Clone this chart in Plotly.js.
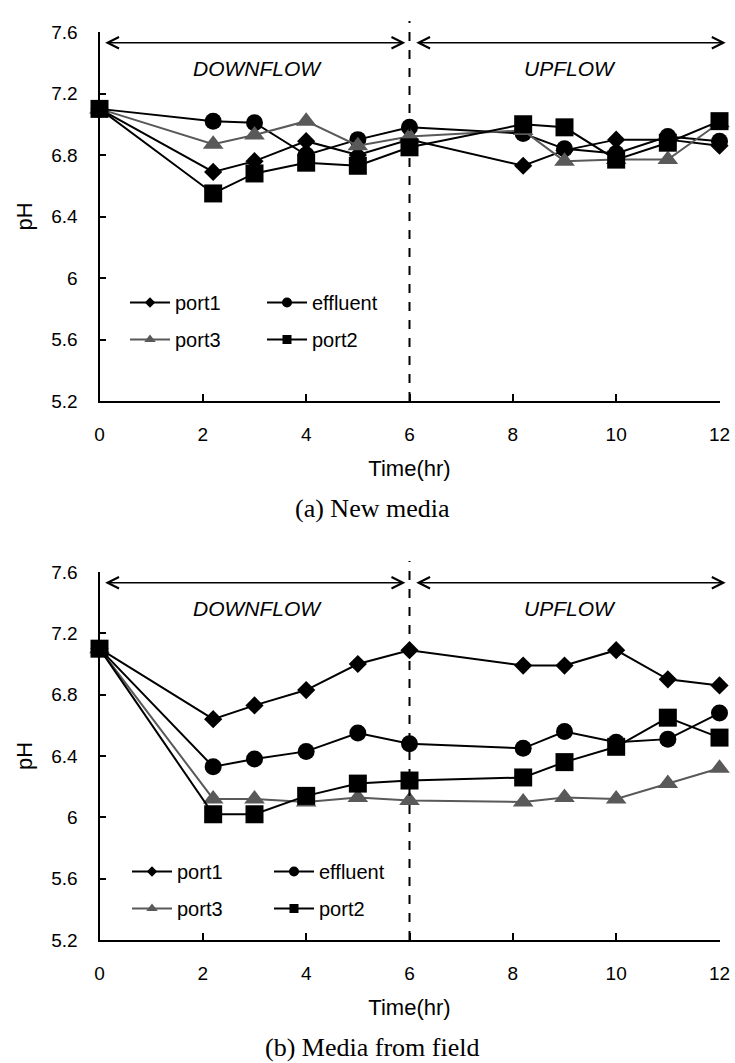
<!DOCTYPE html>
<html>
<head>
<meta charset="utf-8">
<script src="https://cdn.plot.ly/plotly-3.0.1.min.js"></script>
<style>html,body{margin:0;padding:0;background:#fff;}#chart{width:735px;height:1063px;}</style>
</head>
<body>
<div id="chart"></div>
<script>
// ---- data ----
const timeHr = [0, 2.2, 3, 4, 5, 6, 8.2, 9, 10, 11, 12];

// (a) New media
const newPort1    = [7.10, 6.69, 6.76, 6.89, 6.80, 6.90, 6.73, 6.83, 6.90, 6.90, 6.86];
const newEffluent = [7.10, 7.02, 7.01, 6.80, 6.90, 6.98, 6.94, 6.84, 6.81, 6.92, 6.89];
const newPort3    = [7.10, 6.87, 6.93, 7.02, 6.86, 6.92, 6.96, 6.76, 6.77, 6.77, 7.01];
const newPort2    = [7.10, 6.55, 6.68, 6.75, 6.73, 6.85, 7.00, 6.98, 6.77, 6.88, 7.02];

// (b) Media from field
const fieldPort1    = [7.10, 6.64, 6.73, 6.83, 7.00, 7.09, 6.99, 6.99, 7.09, 6.90, 6.86];
const fieldEffluent = [7.10, 6.33, 6.38, 6.43, 6.55, 6.48, 6.45, 6.56, 6.49, 6.51, 6.68];
const fieldPort3    = [7.10, 6.12, 6.12, 6.10, 6.13, 6.11, 6.10, 6.13, 6.12, 6.22, 6.32];
const fieldPort2    = [7.10, 6.02, 6.02, 6.14, 6.22, 6.24, 6.26, 6.36, 6.46, 6.65, 6.52];

const seriesNames = ['port1', 'effluent', 'port3', 'port2'];
const xTicks = [0, 2, 4, 6, 8, 10, 12];
const yTicks = [5.2, 5.6, 6, 6.4, 6.8, 7.2, 7.6];
const captions = ['(a) New media', '(b) Media from field'];
const phaseLabels = ['DOWNFLOW', 'UPFLOW'];

// ---- styles ----
const SANS = '"Liberation Sans", Arial, sans-serif';
const SERIF = '"Liberation Serif", "Times New Roman", serif';
const style = {
  port1:    {symbol: 'diamond',     color: '#000000', size: 14, lsize: 8},
  effluent: {symbol: 'circle',      color: '#000000', size: 17, lsize: 10},
  port3:    {symbol: 'triangle-up', color: '#595959', size: 18, lsize: 10},
  port2:    {symbol: 'square',      color: '#000000', size: 18, lsize: 9}
};

const panels = [
  {xa: 'x',  ya: 'y',  data: {port1: newPort1, effluent: newEffluent, port3: newPort3, port2: newPort2},
   legends: ['legend', 'legend2']},
  {xa: 'x2', ya: 'y2', data: {port1: fieldPort1, effluent: fieldEffluent, port3: fieldPort3, port2: fieldPort2},
   legends: ['legend3', 'legend4']}
];

const traces = [];
panels.forEach(p => {
  // real data traces, drawn in series order
  seriesNames.forEach(n => {
    const s = style[n];
    traces.push({
      type: 'scatter', mode: 'lines+markers', name: n,
      x: timeHr, y: p.data[n], xaxis: p.xa, yaxis: p.ya,
      line: {color: s.color, width: 2},
      marker: {symbol: s.symbol, color: s.color, size: s.size, line: {width: 0}},
      cliponaxis: false, showlegend: false, hoverinfo: 'x+y+name'
    });
  });
  // legend entries (small markers like the reference)
  const cols = [['port1', 'port3'], ['effluent', 'port2']];
  cols.forEach((col, ci) => {
    col.forEach(n => {
      const s = style[n];
      traces.push({
        type: 'scatter', mode: 'lines+markers', name: n,
        x: [null], y: [null], xaxis: p.xa, yaxis: p.ya,
        line: {color: s.color, width: 2},
        marker: {symbol: s.symbol, color: s.color, size: s.lsize, line: {width: 0}},
        legend: p.legends[ci], legendgroup: p.xa + n, showlegend: true
      });
    });
  });
});

const W = 735, H = 1063;
const xDom = [99.5 / W, 719.5 / W];
const yDomTop = [1 - 401 / H, 1 - 32 / H];
const yDomBot = [1 - 940 / H, 1 - 572 / H];

function xAxis(dom, anchor) {
  return {
    domain: dom, anchor: anchor, range: [0, 12], tickvals: xTicks,
    ticks: 'inside', ticklen: 7, tickwidth: 2, tickcolor: '#000',
    showline: true, linecolor: '#000', linewidth: 2, showgrid: false, zeroline: false,
    tickfont: {family: SANS, size: 19, color: '#000'}, ticklabelstandoff: 15,
    automargin: false,
    title: {text: 'Time(hr)', font: {family: SANS, size: 22, color: '#000'}, standoff: 17},
    fixedrange: true
  };
}
function yAxis(dom, anchor) {
  return {
    domain: dom, anchor: anchor, range: [5.2, 7.6], tickvals: yTicks,
    ticktext: yTicks.map(v => String(v)),
    ticks: 'inside', ticklen: 6, tickwidth: 2, tickcolor: '#000',
    showline: true, linecolor: '#000', linewidth: 2, showgrid: false, zeroline: false,
    tickfont: {family: SANS, size: 19, color: '#000'}, ticklabelstandoff: 16,
    automargin: false,
    title: {text: 'pH', font: {family: SANS, size: 22, color: '#000'}, standoff: 13},
    fixedrange: true
  };
}

function legendAt(xPx, yTopPx) {
  return {
    x: xPx / W, y: 1 - yTopPx / H, xanchor: 'left', yanchor: 'top',
    bgcolor: 'rgba(0,0,0,0)', borderwidth: 0,
    font: {family: SANS, size: 20, color: '#000'},
    tracegroupgap: 8, itemwidth: 40, itemclick: false, itemdoubleclick: false
  };
}

const shapes = [];
const annotations = [];
[['x', 'y', 0], ['x2', 'y2', 1]].forEach(([xa, ya, i]) => {
  shapes.push({type: 'line', xref: xa, yref: ya + ' domain', x0: 6, x1: 6, y0: 0, y1: 1.03,
               line: {color: '#000', width: 2, dash: 'dash'}});
  // double-headed phase arrows
  [[0.08, 5.92], [6.1, 12.12]].forEach(([a, b]) => {
    annotations.push({xref: xa, yref: ya, axref: xa, ayref: ya, x: b, y: 7.53, ax: a, ay: 7.53,
      text: '', showarrow: true, arrowside: 'end+start', arrowhead: 5, startarrowhead: 5,
      arrowsize: 1.6, startarrowsize: 1.6, arrowwidth: 1.4, arrowcolor: '#000', standoff: 0, startstandoff: 0});
  });
  annotations.push({xref: xa, yref: ya, x: 3.05, y: 7.365, text: phaseLabels[0], showarrow: false,
    font: {family: SANS, size: 21, color: '#000', style: 'italic'}});
  annotations.push({xref: xa, yref: ya, x: 9.1, y: 7.365, text: phaseLabels[1], showarrow: false,
    font: {family: SANS, size: 21, color: '#000', style: 'italic'}});
  annotations.push({xref: 'paper', yref: 'paper', x: 372 / W, y: 1 - (i === 0 ? 508 : 1047) / H,
    xanchor: 'center', yanchor: 'middle', text: captions[i], showarrow: false,
    font: {family: SERIF, size: 26, color: '#000'}});
});

const layout = {
  width: W, height: H, margin: {l: 0, r: 0, t: 0, b: 0},
  paper_bgcolor: '#fff', plot_bgcolor: '#fff',
  xaxis: xAxis(xDom, 'y'), yaxis: yAxis(yDomTop, 'x'),
  xaxis2: xAxis(xDom, 'y2'), yaxis2: yAxis(yDomBot, 'x2'),
  legend: legendAt(125, 283), legend2: legendAt(262, 283),
  legend3: legendAt(127, 852), legend4: legendAt(269, 852),
  shapes: shapes, annotations: annotations, showlegend: true
};

Plotly.newPlot('chart', traces, layout, {displayModeBar: false, staticPlot: true});
</script>
</body>
</html>
